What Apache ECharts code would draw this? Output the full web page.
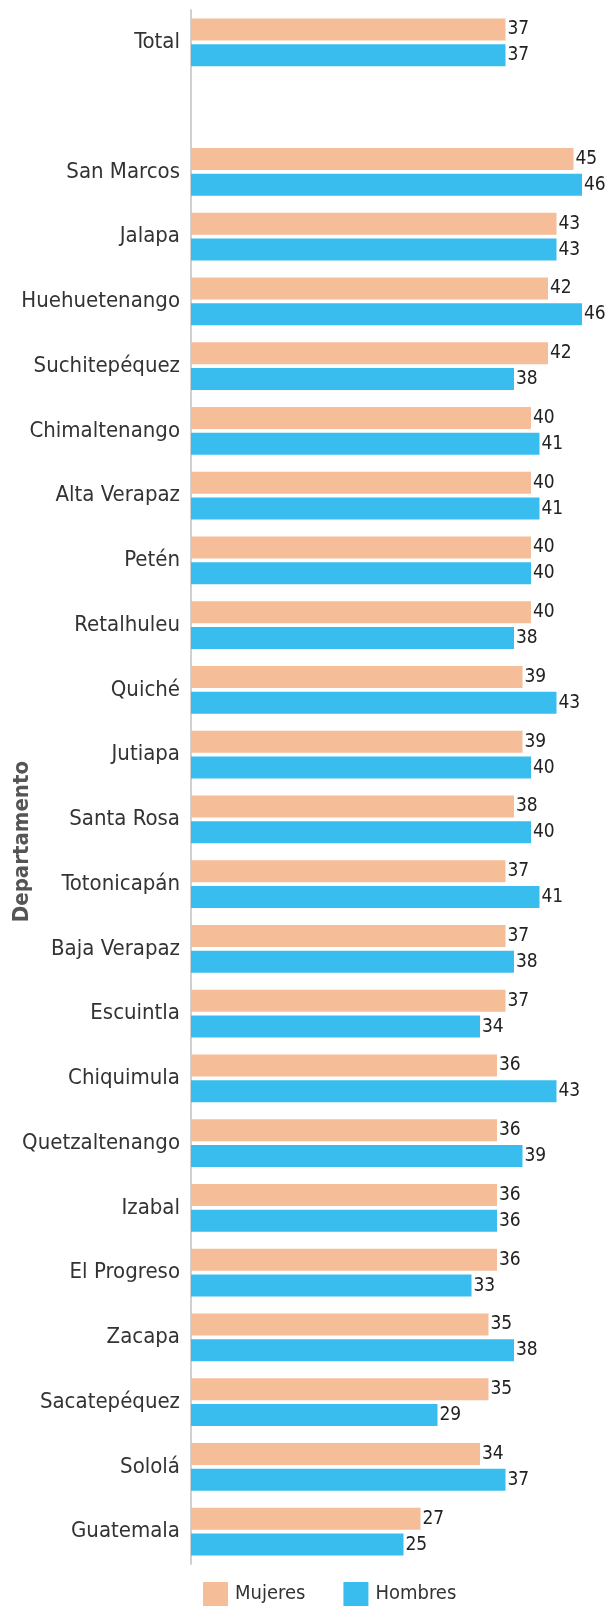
<!DOCTYPE html>
<html>
<head>
<meta charset="utf-8">
<script src="https://cdn.jsdelivr.net/npm/echarts@6/dist/echarts.min.js"></script>
<style>
  html, body { margin: 0; padding: 0; background: #fff; }
  #chart { width: 610px; height: 1611px; }
</style>
</head>
<body>
<div id="chart"></div>
<script>
// categories, top to bottom ('' is the empty row under Total)
var departamentos = ['Total', '', 'San Marcos', 'Jalapa', 'Huehuetenango', 'Suchitepéquez',
  'Chimaltenango', 'Alta Verapaz', 'Petén', 'Retalhuleu', 'Quiché', 'Jutiapa', 'Santa Rosa',
  'Totonicapán', 'Baja Verapaz', 'Escuintla', 'Chiquimula', 'Quetzaltenango', 'Izabal',
  'El Progreso', 'Zacapa', 'Sacatepéquez', 'Sololá', 'Guatemala'];
var mujeres = [37, '-', 45, 43, 42, 42, 40, 40, 40, 40, 39, 39, 38, 37, 37, 37, 36, 36, 36, 36, 35, 35, 34, 27];
var hombres = [37, '-', 46, 43, 46, 38, 41, 41, 40, 38, 43, 40, 40, 41, 38, 34, 43, 39, 36, 33, 38, 29, 37, 25];

var fuente = '"Liberation Sans Narrow", "DejaVu Sans Condensed", "Roboto", sans-serif';

var myChart = echarts.init(document.getElementById('chart'));

function etiqueta() {
  return {
    show: true,
    position: 'right',
    distance: 2,
    color: '#222',
    fontFamily: fuente,
    fontSize: 19
  };
}

var option = {
  animation: false,
  textStyle: { fontFamily: fuente },
  grid: { left: 191, right: 11, top: 10, bottom: 47 },
  legend: {
    bottom: 0,
    left: 198,
    itemWidth: 25,
    itemHeight: 24,
    itemGap: 38,
    icon: 'rect',
    textStyle: { fontFamily: fuente, fontSize: 20, color: '#333', padding: [0, 0, 0, 2] },
    data: ['Mujeres', 'Hombres']
  },
  xAxis: {
    type: 'value',
    min: 0,
    max: 48,
    show: false
  },
  yAxis: {
    type: 'category',
    inverse: true,
    data: departamentos,
    axisLine: { lineStyle: { color: '#d0d0d0', width: 2 } },
    axisTick: { show: false },
    axisLabel: { margin: 11, color: '#333', fontSize: 22, fontFamily: fuente }
  },
  graphic: [{
    type: 'text',
    left: 11,
    top: 761,
    rotation: Math.PI / 2,
    style: {
      text: 'Departamento',
      fill: '#555',
      font: 'bold 22px ' + fuente
    }
  }],
  series: [
    {
      name: 'Mujeres',
      type: 'bar',
      data: mujeres,
      barWidth: 22,
      barGap: '18%',
      itemStyle: { color: '#F6BD99' },
      label: etiqueta()
    },
    {
      name: 'Hombres',
      type: 'bar',
      data: hombres,
      barWidth: 22,
      itemStyle: { color: '#38BDEE' },
      label: etiqueta()
    }
  ]
};

myChart.setOption(option);
</script>
</body>
</html>
